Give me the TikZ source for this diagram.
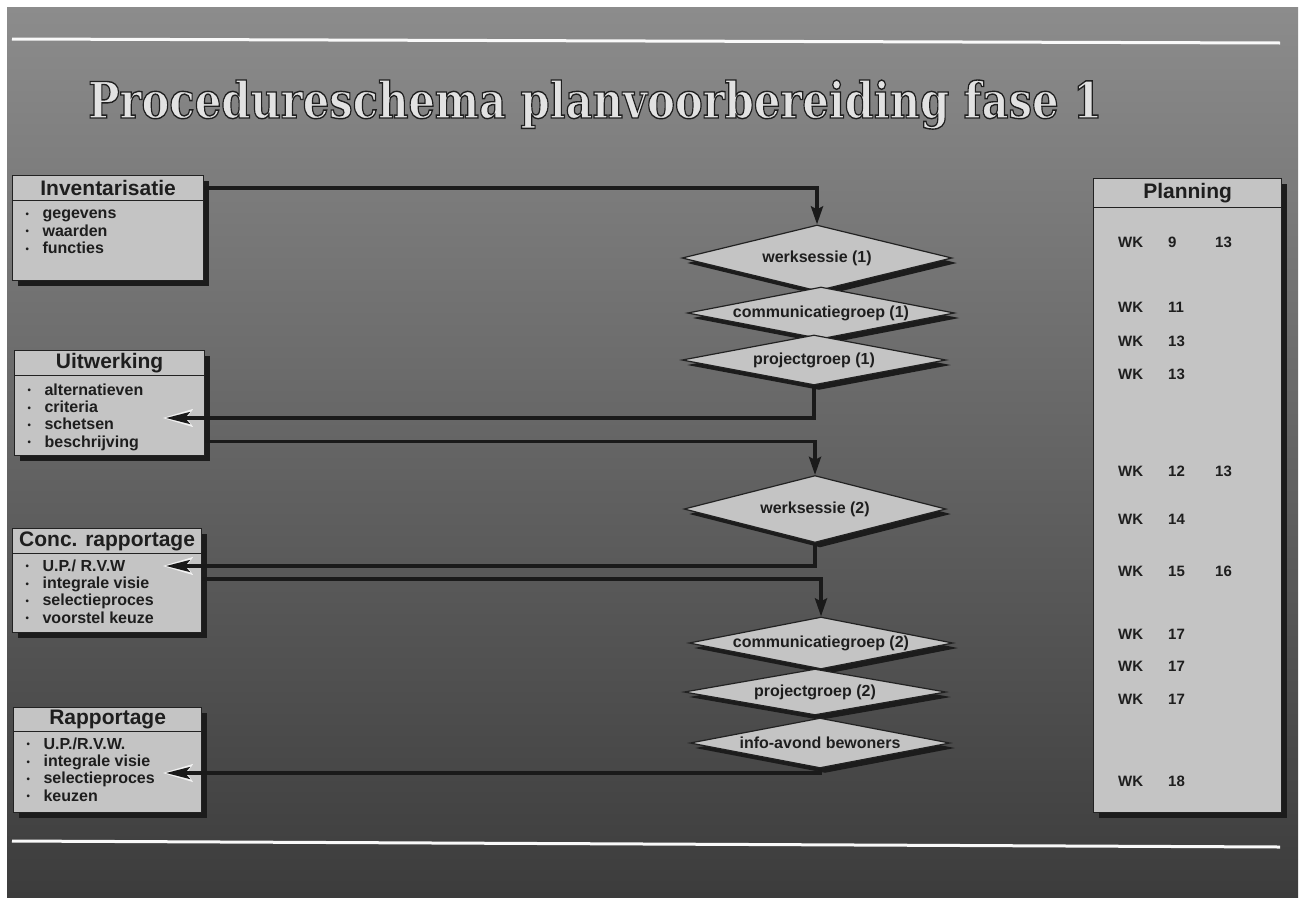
\documentclass[tikz,border=0pt]{standalone}
\usepackage{fontspec}
\setmainfont{Liberation Sans}
\newfontfamily\titlefont{DejaVu Serif}
\usetikzlibrary{shapes.geometric,shadows,arrows.meta,calc}

\definecolor{slidetop}{HTML}{8C8C8C}
\definecolor{slidemid}{HTML}{595959}
\definecolor{slidebot}{HTML}{3C3C3C}
\definecolor{boxfill}{HTML}{C4C4C4}
\definecolor{edge}{HTML}{222222}
\definecolor{ink}{HTML}{1E1E1E}
\definecolor{wire}{HTML}{1A1A1A}
\definecolor{dropc}{HTML}{1C1C1C}
\definecolor{titlelight}{HTML}{E2E2E2}

% one bullet line inside a list box
\newcommand\bitem[1]{\strut\makebox[17pt][l]{\raisebox{1.5pt}{\scalebox{0.6}{•}}}#1\par}
% title letters: light fill with a thin dark stroked outline
\newcommand\outlined[1]{{\color{titlelight}%
  \special{pdf:literal direct 2 Tr 0.28 w 0.12 G}#1\special{pdf:literal direct 0 Tr}}}

\begin{document}
\begin{tikzpicture}[x=1pt,y=-1pt,
  boxbase/.style={draw=edge, line width=1.2pt, fill=boxfill, inner sep=0pt,
    anchor=north west,
    drop shadow={shadow xshift=5pt,shadow yshift=-5pt,fill=dropc,opacity=1}},
  hdr/.style={boxbase, text=ink, font=\bfseries\fontsize{21}{22}\selectfont},
  listbox/.style={boxbase, text=ink, font=\bfseries\fontsize{16}{16}\selectfont},
  choice/.style={diamond, aspect=5.3, draw=edge, line width=1.2pt, fill=boxfill,
    inner sep=0pt, text=ink, font=\bfseries\fontsize{16}{16}\selectfont,
    drop shadow={shadow xshift=5pt,shadow yshift=-5pt,fill=dropc,opacity=1}},
  week/.style={anchor=base west, inner sep=0pt, text=ink,
    font=\bfseries\fontsize{15}{15}\selectfont},
  link/.style={draw=wire, line width=3.5pt},
  down/.style={link, -{Stealth[length=18pt,width=12pt,inset=3pt]}},
  back/.style={link, -{Stealth[length=24pt,width=12pt,inset=5pt]}},
  halo/.style={draw=white!90!gray, line width=2pt, -{Stealth[length=30pt,width=18pt,inset=6pt]}},
  rule/.style={draw=white!95!gray, line width=3pt}
]
\useasboundingbox (0,0) rectangle (1305,897);
\fill[white] (0,0) rectangle (1305,897);
\shade[top color=slidetop, middle color=slidemid, bottom color=slidebot]
  (7,7) rectangle (1298,897);

% horizontal rules
\draw[rule] (12,39) -- (1280,43);
\draw[rule] (12,841) -- (1280,847);

% title
\node[inner sep=0pt, anchor=base west] (title) at (88,118)
  {\resizebox{1014pt}{38pt}{\titlefont\bfseries
   \outlined{Procedureschema planvoorbereiding fase 1}}};

% left column: headers and lists
\node[hdr, minimum width=191pt, minimum height=25pt] (inv) at (12,175) {Inventarisatie};
\node[listbox] (invb) at (12,200)
  {\parbox[c][80pt][t]{191pt}{\leftskip=13pt\vspace*{7pt}%
   \bitem{gegevens}\bitem{waarden}\bitem{functies}}};

\node[hdr, minimum width=190pt, minimum height=25pt] (uit) at (14,350) {Uitwerking};
\node[listbox] (uitb) at (14,375)
  {\parbox[c][80pt][t]{190pt}{\leftskip=13pt\vspace*{8pt}%
   \bitem{alternatieven}\bitem{criteria}\bitem{schetsen}\bitem{beschrijving}}};

\node[hdr, minimum width=189pt, minimum height=25pt] (conc) at (12,528) {Conc. rapportage};
\node[listbox] (concb) at (12,553)
  {\parbox[c][79pt][t]{189pt}{\leftskip=13pt\vspace*{6pt}%
   \bitem{U.P./ R.V.W}\bitem{integrale visie}\bitem{selectieproces}\bitem{voorstel keuze}}};

\node[hdr, minimum width=188pt, minimum height=24pt] (rap) at (13,707) {Rapportage};
\node[listbox] (rapb) at (13,731)
  {\parbox[c][81pt][t]{188pt}{\leftskip=13pt\vspace*{6pt}%
   \bitem{U.P./R.V.W.}\bitem{integrale visie}\bitem{selectieproces}\bitem{keuzen}}};

% planning column
\node[hdr, minimum width=188pt, minimum height=29pt] (plan) at (1093,178) {Planning};
\node[boxbase, minimum width=188pt, minimum height=605pt] (planb) at (1093,207) {};
\node[week] (r1)  at (1118,247) {\makebox[50pt][l]{WK}\makebox[47pt][l]{9}13};
\node[week] (r2)  at (1118,312) {\makebox[50pt][l]{WK}11};
\node[week] (r3)  at (1118,346) {\makebox[50pt][l]{WK}13};
\node[week] (r4)  at (1118,379) {\makebox[50pt][l]{WK}13};
\node[week] (r5)  at (1118,476) {\makebox[50pt][l]{WK}\makebox[47pt][l]{12}13};
\node[week] (r6)  at (1118,524) {\makebox[50pt][l]{WK}14};
\node[week] (r7)  at (1118,576) {\makebox[50pt][l]{WK}\makebox[47pt][l]{15}16};
\node[week] (r8)  at (1118,639) {\makebox[50pt][l]{WK}17};
\node[week] (r9)  at (1118,671) {\makebox[50pt][l]{WK}17};
\node[week] (r10) at (1118,704) {\makebox[50pt][l]{WK}17};
\node[week] (r11) at (1118,786) {\makebox[50pt][l]{WK}18};

% decision column
\node[choice, minimum width=270pt, minimum height=66pt] (w1) at (817,258) {werksessie (1)};
\node[choice, minimum width=267pt, minimum height=52pt] (c1) at (821,313) {communicatiegroep (1)};
\node[choice, minimum width=264pt, minimum height=50pt] (p1) at (814,360) {projectgroep (1)};
\node[choice, minimum width=262pt, minimum height=67pt] (w2) at (815,509) {werksessie (2)};
\node[choice, minimum width=264pt, minimum height=52pt] (c2) at (821,643) {communicatiegroep (2)};
\node[choice, minimum width=262pt, minimum height=46pt] (p2) at (815,692) {projectgroep (2)};
\node[choice, minimum width=260pt, minimum height=50pt] (ia) at (820,743) {info-avond bewoners};

% arrow tips that end inside the list boxes
\coordinate (uwt) at (166,418);
\coordinate (cct) at (166,566);
\coordinate (rpt) at (166,773);

% connectors
\draw[down] (inv.east) -| (w1.north);
\draw[halo] ([xshift=40pt]uwt) -- ([xshift=-3pt]uwt);
\draw[back] (p1.south) |- (uwt);
\draw[down] ([yshift=-26pt]uitb.east) -| (w2.north);
\draw[halo] ([xshift=40pt]cct) -- ([xshift=-3pt]cct);
\draw[back] (w2.south) |- (cct);
\draw[down] ([yshift=14pt]concb.east) -| (c2.north);
\draw[halo] ([xshift=40pt]rpt) -- ([xshift=-3pt]rpt);
\draw[back] (ia.south) |- (rpt);
\end{tikzpicture}
\end{document}
